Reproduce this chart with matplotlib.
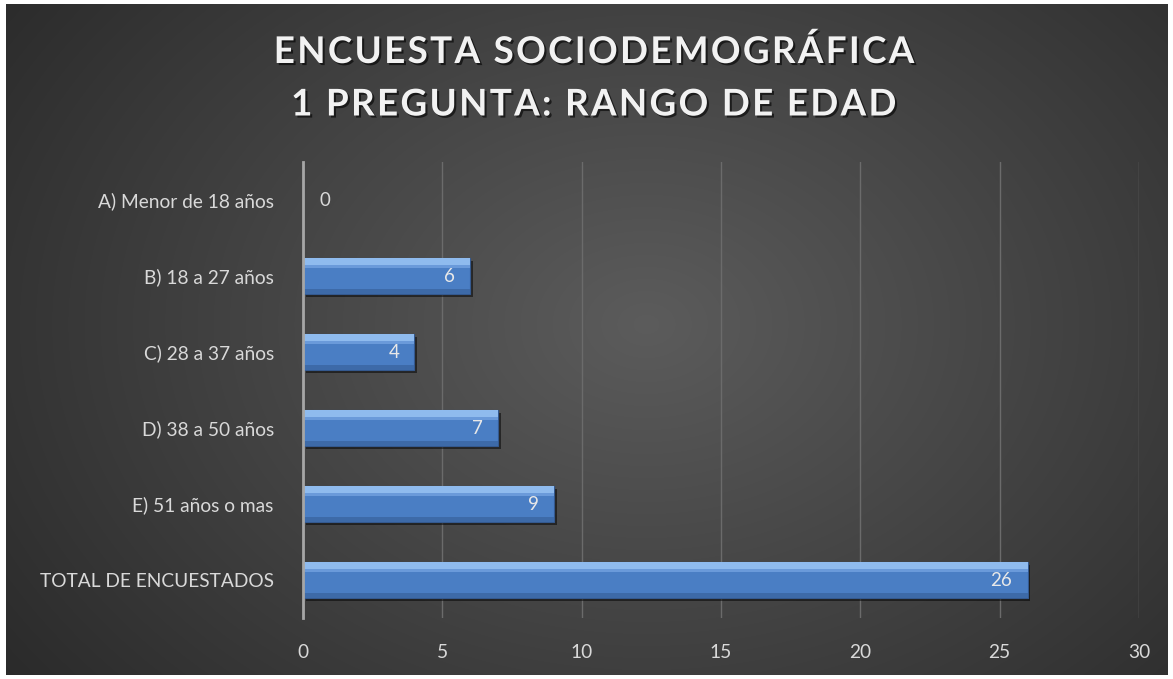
import numpy as np
import matplotlib.pyplot as plt
import matplotlib.patheffects as pe

categorias = ["A) Menor de 18 años", "B) 18 a 27 años", "C) 28 a 37 años",
              "D) 38 a 50 años", "E) 51 años o mas", "TOTAL DE ENCUESTADOS"]
valores = [0, 6, 4, 7, 9, 26]
ticks_x = [0, 5, 10, 15, 20, 25, 30]
titulo = ["ENCUESTA SOCIODEMOGRÁFICA", "1 PREGUNTA: RANGO DE EDAD"]

plt.rcParams['font.family'] = ['Lato', 'DejaVu Sans']

fig = plt.figure(figsize=(11.73, 6.79), dpi=100)
fig.patch.set_facecolor('white')

# fondo con degradado radial
bg = fig.add_axes([6/1173, 4/679, 1162/1173, 671/679])
bg.set_axis_off()
yy, xx = np.mgrid[0:671, 0:1162]
r = np.sqrt(((xx - 640) / 700.0) ** 2 + ((yy - 320) / 520.0) ** 2)
g = np.clip(0.36 - 0.17 * r, 0.16, 0.36)
bg.imshow(np.dstack([g, g, g]), aspect='auto', extent=[0, 1, 0, 1])
bg.set_xlim(0, 1)
bg.set_ylim(0, 1)

ax = fig.add_axes([303/1173, 61/679, 836/1173, 456/679])
ax.patch.set_alpha(0)
y = np.arange(len(categorias))

sombra = [pe.SimplePatchShadow(offset=(2, -2), shadow_rgbFace='black', alpha=0.5), pe.Normal()]
ax.barh(y, valores, height=0.47, color='#4a7ec4', edgecolor='#34598f',
        linewidth=0.8, zorder=3, path_effects=sombra)
# bisel: brillo arriba, sombra abajo
ax.barh(y - 0.235 + 0.045, valores, height=0.09, color='#8fbbee', linewidth=0, zorder=4)
ax.barh(y - 0.235 + 0.11, valores, height=0.05, color='#6a9ada', linewidth=0, zorder=4)
ax.barh(y + 0.235 - 0.035, valores, height=0.07, color='#3d6aa8', linewidth=0, zorder=4)

for yi, v in zip(y, valores):
    if v == 0:
        ax.annotate(str(v), (v, yi), xytext=(12, 0), textcoords='offset points',
                    ha='left', va='center', color='#d9d9d9', fontsize=13.5, zorder=5)
    else:
        ax.annotate(str(v), (v, yi), xytext=(-11, 0), textcoords='offset points',
                    ha='right', va='center', color='#e8e8e8', fontsize=13.5, zorder=5)

ax.set_xlim(0, 30)
ax.set_ylim(len(categorias) - 0.5, -0.5)
ax.set_xticks(ticks_x)
ax.set_yticks(y)
ax.set_yticklabels(categorias)
ax.grid(axis='x', color='#6b6b6b', linewidth=1, zorder=0)
ax.set_axisbelow(True)
for s in ['top', 'right', 'bottom']:
    ax.spines[s].set_visible(False)
ax.spines['left'].set_color('#a6a6a6')
ax.spines['left'].set_linewidth(2)
ax.spines['left'].set_zorder(6)
ax.tick_params(axis='both', length=0, colors='#d9d9d9', labelsize=13.8)
ax.tick_params(axis='y', pad=21)
ax.tick_params(axis='x', pad=19)

# titulo con espaciado entre letras
sombra_txt = [pe.withSimplePatchShadow(offset=(1.5, -1.5), shadow_rgbFace='black', alpha=0.6)]
for linea, ypx in zip(titulo, [52, 105]):
    fig.text(593/1173, 1 - ypx/679, '\u200a'.join(linea), ha='center', va='center',
             color='#f2f2f2', fontsize=26.5, fontweight='bold', path_effects=sombra_txt)

fig.savefig('out.png', dpi=100)
